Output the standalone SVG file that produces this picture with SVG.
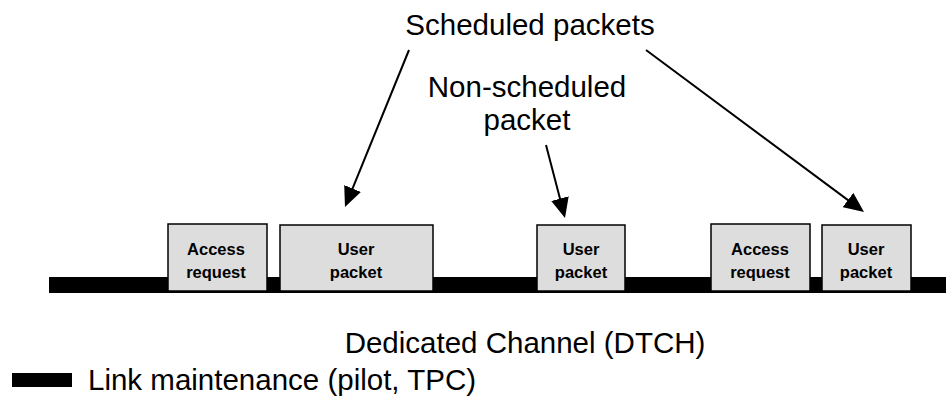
<svg xmlns="http://www.w3.org/2000/svg" width="946" height="396" viewBox="0 0 946 396">
  <style>
    .lbl { font-family: "Liberation Sans", Arial, sans-serif; font-size: 29.5px; fill: #000; }
    .pkt rect { fill: #dddddd; stroke: #000; stroke-width: 1.5; }
    .pkt text { font-family: "Liberation Sans", Arial, sans-serif; font-size: 16.5px; font-weight: bold; fill: #000; text-anchor: middle; }
    .conn line { stroke: #000; stroke-width: 2; marker-end: url(#head); }
  </style>
  <defs>
    <marker id="head" viewBox="0 0 20 18" refX="16" refY="9" markerWidth="20" markerHeight="18" markerUnits="userSpaceOnUse" orient="auto">
      <path d="M0,0 L20,9 L0,18 z" fill="#000"/>
    </marker>
  </defs>
  <rect width="946" height="396" fill="#fff"/>

  <!-- channel bar -->
  <rect id="channel" x="49" y="277" width="897" height="16" fill="#000"/>

  <!-- packets on the channel -->
  <g id="access1" class="pkt">
    <rect x="168" y="224" width="99" height="67"/>
    <text x="216" y="255">Access</text>
    <text x="216" y="278">request</text>
  </g>
  <g id="user1" class="pkt">
    <rect x="280" y="225" width="153" height="66"/>
    <text x="356" y="255">User</text>
    <text x="356" y="278">packet</text>
  </g>
  <g id="user2" class="pkt">
    <rect x="537" y="225" width="88" height="66"/>
    <text x="581" y="255">User</text>
    <text x="581" y="278">packet</text>
  </g>
  <g id="access2" class="pkt">
    <rect x="711" y="224" width="99" height="67"/>
    <text x="760" y="255">Access</text>
    <text x="760" y="278">request</text>
  </g>
  <g id="user3" class="pkt">
    <rect x="822" y="225" width="89" height="66"/>
    <text x="866" y="255">User</text>
    <text x="866" y="278">packet</text>
  </g>

  <!-- labels -->
  <g id="scheduled">
    <text class="lbl" x="530" y="35" text-anchor="middle">Scheduled packets</text>
  </g>
  <g id="nonscheduled">
    <text class="lbl" x="527" y="97" text-anchor="middle">Non-scheduled</text>
    <text class="lbl" x="527" y="130" text-anchor="middle">packet</text>
  </g>
  <g id="channel-name">
    <text class="lbl" x="525" y="353" text-anchor="middle">Dedicated Channel (DTCH)</text>
  </g>
  <g id="legend">
    <rect x="12" y="373" width="60" height="14" fill="#000"/>
    <text class="lbl" x="88" y="390">Link maintenance (pilot, TPC)</text>
  </g>

  <!-- connectors -->
  <g id="connectors" class="conn">
    <line x1="409" y1="50" x2="346.5" y2="203.3"/>
    <line x1="546" y1="145" x2="564" y2="214.1"/>
    <line x1="646" y1="50" x2="860.8" y2="209.6"/>
  </g>
</svg>
